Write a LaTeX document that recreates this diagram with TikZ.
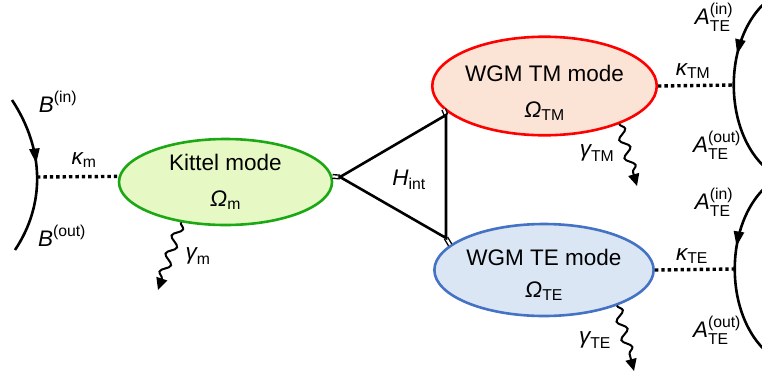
\documentclass[tikz,border=0pt]{standalone}
\usepackage{fontspec}
\setmainfont{Liberation Sans}
\usepackage{amsmath}
\usetikzlibrary{shapes.geometric,decorations.pathmorphing,decorations.markings,arrows.meta}
\definecolor{kfill}{RGB}{230,249,196}
\definecolor{kdraw}{RGB}{28,168,20}
\definecolor{tmfill}{RGB}{251,227,214}
\definecolor{tmdraw}{RGB}{255,0,0}
\definecolor{tefill}{RGB}{218,230,244}
\definecolor{tedraw}{RGB}{68,114,196}
\newcommand\sslab[3]{$\textit{#1}^{\text{#2}}_{\text{#3}}$}
\newcommand\sblab[2]{$\textit{#1}_{\text{#2}}$}
\newcommand\splab[2]{$\textit{#1}^{\text{#2}}$}
\begin{document}
\begin{tikzpicture}[x=1pt,y=-1pt,
  every node/.style={font=\fontsize{22.5}{26}\selectfont, inner sep=0pt},
  mode/.style={ellipse, draw, line width=2.6pt, minimum width=213pt, minimum height=86pt, align=center},
  coupler/.style={double, double distance=2.2pt, line width=1.4pt},
  edge/.style={line width=2.6pt},
  port/.style={line width=3.4pt, dash pattern=on 3.4pt off 3pt},
  wave/.style={line width=2pt, decorate, decoration={snake, amplitude=4.5pt, segment length=19pt, post length=10pt}, -{Triangle[length=12pt,width=11pt]}},
  bath/.style={line width=2.6pt, postaction={decorate, decoration={markings, mark=at position #1 with {\arrow{Triangle[length=15pt,width=10pt]}}}}}
]
\useasboundingbox (0,0) rectangle (762,378);

% modes
\node[mode, fill=kfill, draw=kdraw] (K) at (225.5,182) {Kittel mode\\[10pt]\sblab{Ω}{m}};
\node[mode, fill=tmfill, draw=tmdraw, minimum height=96pt] (TM) at (544.5,86) {\rule{0pt}{30pt}WGM TM mode\\[10pt]\sblab{Ω}{TM}};
\node[mode, fill=tefill, draw=tedraw, minimum height=92pt, minimum width=214pt] (TE) at (544,270) {\rule{0pt}{26pt}WGM TE mode\\[6pt]\sblab{Ω}{TE}};

% interaction triangle
\coordinate (v1) at (340,177);
\coordinate (v2) at (446,115);
\coordinate (v3) at (446,238);
\draw[coupler] (K.3) -- (v1);
\draw[coupler] (v2) -- (TM.193);
\draw[coupler] (v3) -- (TE.165);
\draw[edge, line join=miter] (v1) -- (v2) -- (v3) -- cycle;
\node (H) at (409,180) {\sblab{H}{int}};

% left bath
\coordinate (Lb) at (37,177);
\draw[bath=0.43] (12,100) .. controls (45,150) and (45,205) .. (15,250);
\draw[port] (Lb) -- (K.177);
\node (Bin) at (58,102) {\splab{B}{(in)}};
\node (Bout) at (62,236) {\splab{B}{(out)}};
\node (km) at (84,160) {\sblab{κ}{m}};

% TM bath
\coordinate (TMb) at (734,85);
\draw[bath=0.35] (775,-5) .. controls (720,30) and (720,140) .. (775,175);
\draw[port] (TM.east) -- (TMb);
\node (ktm) at (693,71) {\sblab{κ}{TM}};
\node (Atmin) at (714,17) {\sslab{A}{(in)}{TE}};
\node (Atmout) at (717,145) {\sslab{A}{(out)}{TE}};

% TE bath
\coordinate (TEb) at (735,269);
\draw[bath=0.39] (776,179) .. controls (721,214) and (721,324) .. (776,359);
\draw[port] (TE.east) -- (TEb);
\node (kte) at (692,256) {\sblab{κ}{TE}};
\node (Atein) at (714,202) {\sslab{A}{(in)}{TE}};
\node (Ateout) at (717,330) {\sslab{A}{(out)}{TE}};

% losses
\coordinate (gmend) at (158,290);
\coordinate (gtmend) at (637,186);
\coordinate (gteend) at (634,371);
\draw[wave] (K.222) -- (gmend);
\draw[wave] (TM.333) -- (gtmend);
\draw[wave] (TE.334) -- (gteend);
\node (gm) at (198,256) {\sblab{γ}{m}};
\node (gtm) at (597,153) {\sblab{γ}{TM}};
\node (gte) at (595,340) {\sblab{γ}{TE}};
\end{tikzpicture}
\end{document}
